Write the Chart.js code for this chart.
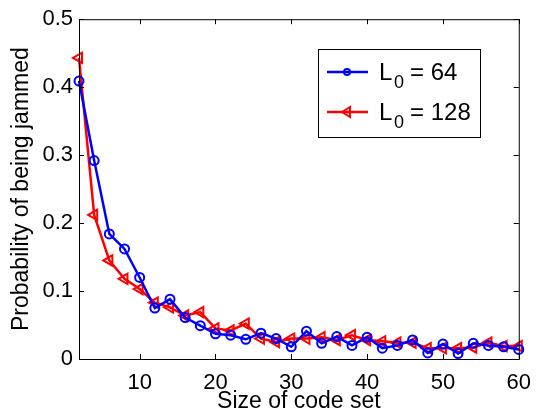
<!DOCTYPE html>
<html>
<head>
<meta charset="utf-8">
<script src="https://cdn.jsdelivr.net/npm/chart.js@4"></script>
<style>
  html, body { margin: 0; padding: 0; background: #fff; }
  #wrap { width: 542px; height: 415px; }
</style>
</head>
<body>
<div id="wrap"><canvas id="Chart1" width="542" height="415"></canvas></div>
<script>
// code set sizes (x)
const sizes = [2, 4, 6, 8, 10, 12, 14, 16, 18, 20, 22, 24, 26, 28, 30,
               32, 34, 36, 38, 40, 42, 44, 46, 48, 50, 52, 54, 56, 58, 60];
// L0 = 64
const jam64 = [0.409, 0.292, 0.184, 0.162, 0.120, 0.075, 0.088, 0.061, 0.049, 0.037,
               0.035, 0.029, 0.038, 0.030, 0.018, 0.041, 0.023, 0.033, 0.020, 0.032,
               0.016, 0.020, 0.028, 0.009, 0.022, 0.008, 0.023, 0.020, 0.018, 0.014];
// L0 = 128
const jam128 = [0.443, 0.212, 0.145, 0.118, 0.103, 0.083, 0.076, 0.064, 0.069, 0.045,
                0.042, 0.052, 0.030, 0.025, 0.030, 0.030, 0.032, 0.028, 0.035, 0.028,
                0.026, 0.024, 0.024, 0.016, 0.016, 0.016, 0.017, 0.024, 0.019, 0.019];
const xTicks = [10, 20, 30, 40, 50, 60];
const yTicks = [0, 0.1, 0.2, 0.3, 0.4, 0.5];
const seriesNames = ['64', '128'];

const FONT = 'Liberation Sans, Arial, Helvetica, sans-serif';

function pts(ys) {
    return sizes.map(function(x, i) { return {x: x, y: ys[i]}; });
}

// matlab style box with inward ticks + legend in the upper right
const boxPlugin = {
    id: 'box',
    afterDraw: function(chart) {
        const ctx = chart.ctx;
        const a = chart.chartArea;
        const xs = chart.scales.x, ys = chart.scales.y;
        ctx.save();
        ctx.strokeStyle = '#000';
        ctx.lineWidth = 1;
        ctx.strokeRect(a.left + 0.5, a.top + 0.5, a.right - a.left, a.bottom - a.top);
        ctx.beginPath();
        xTicks.forEach(function(v) {
            const px = Math.round(xs.getPixelForValue(v)) + 0.5;
            ctx.moveTo(px, a.bottom); ctx.lineTo(px, a.bottom - 5);
            ctx.moveTo(px, a.top); ctx.lineTo(px, a.top + 5);
        });
        yTicks.forEach(function(v) {
            const py = Math.round(ys.getPixelForValue(v)) + 0.5;
            ctx.moveTo(a.left, py); ctx.lineTo(a.left + 5, py);
            ctx.moveTo(a.right, py); ctx.lineTo(a.right - 5, py);
        });
        ctx.stroke();

        // legend
        const lx = 318, ly = 49, lw = 162, lh = 88;
        ctx.fillStyle = '#fff';
        ctx.fillRect(lx, ly, lw, lh);
        ctx.strokeRect(lx + 0.5, ly + 0.5, lw, lh);
        chart.data.datasets.forEach(function(ds, i) {
            const y = ly + 23 + i * 40;
            ctx.strokeStyle = ds.borderColor;
            ctx.lineWidth = 2.5;
            ctx.beginPath();
            ctx.moveTo(lx + 9, y); ctx.lineTo(lx + 50, y);
            ctx.stroke();
            ctx.lineWidth = 2;
            ctx.beginPath();
            if (i === 0) {
                ctx.arc(lx + 29, y, 3, 0, Math.PI * 2);
            } else {
                ctx.moveTo(lx + 24, y); ctx.lineTo(lx + 32, y - 5); ctx.lineTo(lx + 32, y + 5); ctx.closePath();
            }
            ctx.stroke();
            ctx.fillStyle = '#000';
            ctx.textBaseline = 'alphabetic';
            ctx.textAlign = 'left';
            ctx.font = '24px ' + FONT;
            ctx.fillText('L', lx + 61, y + 8);
            ctx.font = '18px ' + FONT;
            ctx.fillText('0', lx + 76, y + 16);
            ctx.font = '24px ' + FONT;
            ctx.fillText('= ' + seriesNames[i], lx + 92, y + 8);
        });
        ctx.restore();
    }
};

document.addEventListener("DOMContentLoaded", function() {
    new Chart(document.getElementById('Chart1'), {
        type: 'line',
        plugins: [boxPlugin],
        data: {
            datasets: [{
                label: 'L\u2080 = 64',
                data: pts(jam64),
                borderColor: '#0000ff',
                backgroundColor: 'rgba(0,0,0,0)',
                borderWidth: 2.5,
                pointStyle: 'circle',
                pointRadius: 4.5,
                pointBorderWidth: 2,
                pointBorderColor: '#0000ff',
                pointBackgroundColor: 'rgba(0,0,0,0)',
                clip: false,
                tension: 0
            }, {
                label: 'L\u2080 = 128',
                data: pts(jam128),
                borderColor: '#ff0000',
                backgroundColor: 'rgba(0,0,0,0)',
                borderWidth: 2.5,
                pointStyle: 'triangle',
                rotation: -90,
                pointRadius: 6,
                pointBorderWidth: 2,
                pointBorderColor: '#ff0000',
                pointBackgroundColor: 'rgba(0,0,0,0)',
                clip: false,
                tension: 0
            }]
        },
        options: {
            responsive: false,
            animation: false,
            layout: { padding: { top: 15, right: 15, left: 0, bottom: 0 } },
            plugins: {
                legend: { display: false },
                tooltip: { enabled: false }
            },
            scales: {
                x: {
                    type: 'linear',
                    min: 2,
                    max: 60,
                    grid: { display: false, drawTicks: false },
                    border: { display: false },
                    afterBuildTicks: function(s) { s.ticks = xTicks.map(function(v) { return {value: v}; }); },
                    afterFit: function(s) { s.height = 56; },
                    ticks: { color: '#000', padding: 11, maxRotation: 0, font: { family: FONT, size: 22 } },
                    title: {
                        display: true,
                        text: 'Size of code set',
                        color: '#000',
                        padding: { top: -4, bottom: 0 },
                        font: { family: FONT, size: 23 }
                    }
                },
                y: {
                    min: 0,
                    max: 0.5,
                    grid: { display: false, drawTicks: false },
                    border: { display: false },
                    afterBuildTicks: function(s) { s.ticks = yTicks.map(function(v) { return {value: v}; }); },
                    afterFit: function(s) { s.width = 79; },
                    ticks: {
                        color: '#000',
                        padding: 6,
                        font: { family: FONT, size: 22 },
                        callback: function(v) { return String(Math.round(v * 10) / 10); }
                    },
                    title: {
                        display: true,
                        text: 'Probability of being jammed',
                        color: '#000',
                        padding: { top: 8, bottom: 0 },
                        font: { family: FONT, size: 23 }
                    }
                }
            }
        }
    });
});
</script>
</body>
</html>
